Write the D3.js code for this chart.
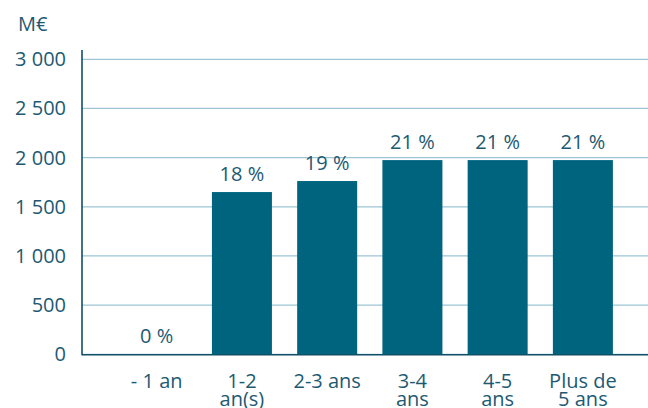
<!DOCTYPE html>
<html>
<head>
<meta charset="utf-8">
<script src="https://cdn.jsdelivr.net/npm/d3@7"></script>
<style>
  body { margin: 0; background: white; }
  text { font-family: "Open Sans", sans-serif; fill: #1d5a72; }
</style>
</head>
<body>
<div id="container"></div>
<script>
let w = 648;
let h = 408;

// data
let categories = ["- 1 an", "1-2 an(s)", "2-3 ans", "3-4 ans", "4-5 ans", "Plus de 5 ans"];
let catLines = [["- 1 an"], ["1-2", "an(s)"], ["2-3 ans"], ["3-4", "ans"], ["4-5", "ans"], ["Plus de", "5 ans"]];
let values = [0, 1650, 1762, 1975, 1975, 1975];
let shares = ["0 %", "18 %", "19 %", "21 %", "21 %", "21 %"];
let yTicks = [0, 500, 1000, 1500, 2000, 2500, 3000];

let barColor = "#00647f";
let gridColor = "#9dc5d5";
let axisColor = "#114e67";

let viz = d3.select("#container")
  .append("svg")
    .attr("width", w)
    .attr("height", h)
    .style("background-color", "white")
;

let left = 82;
let xScale = d3.scaleBand().domain(categories).range([left, w])
  .paddingInner(0.296).paddingOuter(0.468).align(0.56);
let yScale = d3.scaleLinear().domain([0, 3000]).range([354.3, 59.3]);

// unit
viz.append("text")
    .attr("x", 18)
    .attr("y", 31)
    .style("font-size", "20px")
    .text("M€");

// gridlines
viz.selectAll(".grid").data(yTicks).enter()
  .append("line")
    .classed("grid", true)
    .attr("x1", left)
    .attr("x2", w)
    .attr("y1", d => yScale(d))
    .attr("y2", d => yScale(d))
    .attr("stroke", gridColor)
    .attr("stroke-width", 1.2)
;

// y axis labels
let yAxis = d3.axisLeft(yScale)
  .tickValues(yTicks)
  .tickSize(0)
  .tickPadding(16)
  .tickFormat(d => d3.format(",")(d).replace(",", " "));

let yg = viz.append("g")
    .attr("transform", "translate(" + left + ",0)")
    .call(yAxis);
yg.select(".domain").remove();
yg.selectAll("text")
    .style("font-size", "20px")
    .style("font-family", "'Open Sans', sans-serif")
    .attr("fill", "#1d5a72");

// bars
viz.selectAll(".bar").data(values).enter()
  .append("rect")
    .classed("bar", true)
    .attr("x", (d, i) => xScale(categories[i]))
    .attr("y", d => yScale(d))
    .attr("width", xScale.bandwidth())
    .attr("height", d => yScale(0) - yScale(d))
    .attr("fill", barColor)
;

// percent labels
viz.selectAll(".share").data(values).enter()
  .append("text")
    .classed("share", true)
    .attr("x", (d, i) => xScale(categories[i]) + xScale.bandwidth() / 2)
    .attr("y", d => yScale(d) - 11)
    .attr("text-anchor", "middle")
    .style("font-size", "20px")
    .text((d, i) => shares[i])
;

// axes lines
viz.append("line")
    .attr("x1", left).attr("x2", left)
    .attr("y1", 50).attr("y2", yScale(0) + 1)
    .attr("stroke", axisColor)
    .attr("stroke-width", 1.6);
viz.append("line")
    .attr("x1", left).attr("x2", w)
    .attr("y1", yScale(0) + 0.5).attr("y2", yScale(0) + 0.5)
    .attr("stroke", axisColor)
    .attr("stroke-width", 1.6);

// category labels
let cats = viz.selectAll(".cat").data(categories).enter()
  .append("text")
    .classed("cat", true)
    .attr("text-anchor", "middle")
    .style("font-size", "20px")
    .attr("transform", d => "translate(" + (xScale(d) + xScale.bandwidth() / 2) + ",388)")
;
cats.selectAll("tspan").data((d, i) => catLines[i]).enter()
  .append("tspan")
    .attr("x", 0)
    .attr("y", (d, j) => j * 18)
    .text(d => d);
</script>
</body>
</html>
